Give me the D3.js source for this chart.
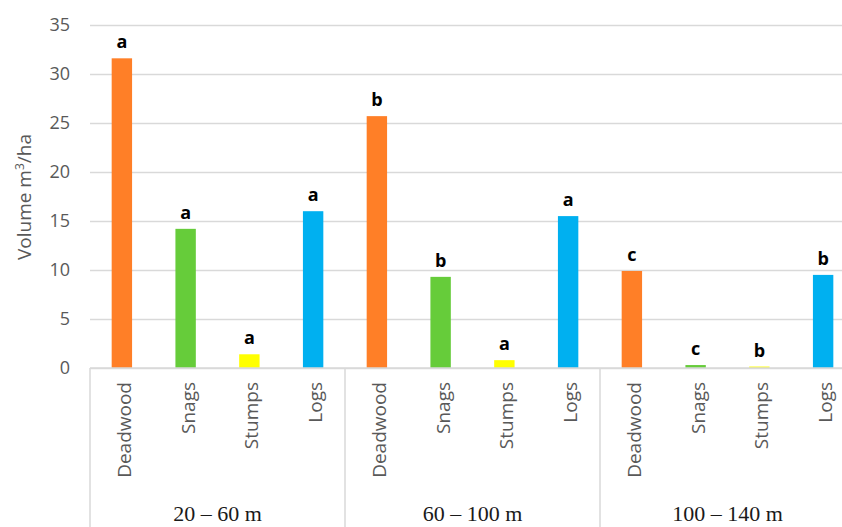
<!DOCTYPE html>
<html>
<head>
<meta charset="utf-8">
<script src="https://cdn.jsdelivr.net/npm/d3@7"></script>
<style>
  html, body { margin: 0; padding: 0; background: #fff; }
  svg { display: block; }
</style>
</head>
<body>
<svg id="chart" width="842" height="527"></svg>
<script>
// Distance classes (outer axis level) and deadwood components (inner level)
const groups = ["20 – 60 m", "60 – 100 m", "100 – 140 m"];
const components = ["Deadwood", "Snags", "Stumps", "Logs"];

// Volume (m³/ha) per component, one array per distance class
const vol20to60 = [31.6, 14.2, 1.4, 16.0];
const vol60to100 = [25.7, 9.3, 0.8, 15.5];
const vol100to140 = [9.9, 0.3, 0.15, 9.5];

// Significance letters above each bar
const sig20to60 = ["a", "a", "a", "a"];
const sig60to100 = ["b", "b", "a", "a"];
const sig100to140 = ["c", "c", "b", "b"];

const yTicks = [0, 5, 10, 15, 20, 25, 30, 35];
const colors = ["#FF7F27", "#66CC3A", "#FFFF00", "#00B0F0"];

const values = [vol20to60, vol60to100, vol100to140];
const letters = [sig20to60, sig60to100, sig100to140];

const svg = d3.select("#chart");
const plotLeft = 90, plotRight = 855, plotTop = 25, plotBottom = 368;
const sans = "'Open Sans', sans-serif";

const y = d3.scaleLinear().domain([0, 35]).range([plotBottom, plotTop]);
const xGroup = d3.scaleBand().domain(groups).range([plotLeft, plotRight]).padding(0);
const xComp = d3.scaleBand().domain(components)
  .range([0, xGroup.bandwidth()]).paddingInner(0.68).paddingOuter(0.34);
const color = d3.scaleOrdinal().domain(components).range(colors);

const rows = [];
groups.forEach((g, gi) => components.forEach((c, ci) => {
  rows.push({ group: g, comp: c, value: values[gi][ci], letter: letters[gi][ci] });
}));
const barCenter = d => xGroup(d.group) + xComp(d.comp) + xComp.bandwidth() / 2;

// Horizontal gridlines with value labels
const yAxis = d3.axisLeft(y).tickValues(yTicks).tickSize(-(842 - plotLeft)).tickPadding(20);
const gy = svg.append("g").attr("transform", `translate(${plotLeft},0)`).call(yAxis);
gy.select(".domain").remove();
gy.selectAll(".tick line").attr("stroke", "#d9d9d9").attr("stroke-width", 1.5);
gy.selectAll(".tick text")
  .attr("fill", "#595959")
  .style("font-family", sans)
  .style("font-size", "18px");

// Y axis title
svg.append("text")
  .attr("transform", `translate(31,197) rotate(-90)`)
  .attr("text-anchor", "middle")
  .attr("fill", "#595959")
  .style("font-family", sans)
  .style("font-size", "19px")
  .html('Volume m<tspan dy="-7" font-size="12px">3</tspan><tspan dy="7">/ha</tspan>');

// Bars
svg.append("g").selectAll("rect")
  .data(rows)
  .join("rect")
  .attr("x", d => xGroup(d.group) + xComp(d.comp))
  .attr("width", xComp.bandwidth())
  .attr("y", d => y(d.value))
  .attr("height", d => y(0) - y(d.value))
  .attr("fill", d => color(d.comp));

// Significance letters
svg.append("g").selectAll("text")
  .data(rows)
  .join("text")
  .attr("x", barCenter)
  .attr("y", d => y(d.value) - 10)
  .attr("text-anchor", "middle")
  .attr("fill", "#000")
  .style("font-family", sans)
  .style("font-weight", "bold")
  .style("font-size", "18px")
  .text(d => d.letter);

// Category axis: baseline, group dividers, labels
const axisG = svg.append("g");
axisG.append("line")
  .attr("x1", plotLeft).attr("x2", 842)
  .attr("y1", plotBottom).attr("y2", plotBottom)
  .attr("stroke", "#d9d9d9").attr("stroke-width", 1.5);

axisG.selectAll("line.div")
  .data(groups)
  .join("line")
  .attr("class", "div")
  .attr("x1", d => xGroup(d)).attr("x2", d => xGroup(d))
  .attr("y1", plotBottom).attr("y2", 527)
  .attr("stroke", "#d9d9d9").attr("stroke-width", 1.5);

axisG.selectAll("text.comp")
  .data(rows)
  .join("text")
  .attr("class", "comp")
  .attr("transform", d => `translate(${barCenter(d) + 9},382) rotate(-90)`)
  .attr("text-anchor", "end")
  .attr("fill", "#595959")
  .style("font-family", sans)
  .style("font-size", "19px")
  .text(d => d.comp);

axisG.selectAll("text.grp")
  .data(groups)
  .join("text")
  .attr("class", "grp")
  .attr("x", d => xGroup(d) + xGroup.bandwidth() / 2)
  .attr("y", 521)
  .attr("text-anchor", "middle")
  .attr("fill", "#1a1a1a")
  .style("font-family", "'Liberation Serif', serif")
  .style("font-size", "22px")
  .text(d => d);
</script>
</body>
</html>
